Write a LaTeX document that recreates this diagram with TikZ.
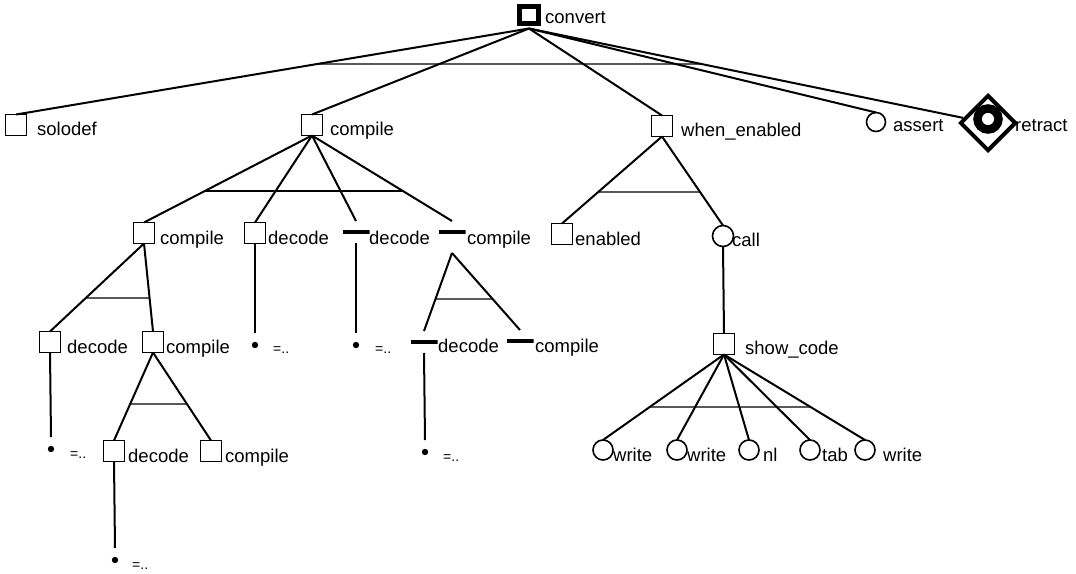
\documentclass[tikz,border=0pt]{standalone}
\usepackage{fontspec}
\setmainfont{Liberation Sans}
\usetikzlibrary{shapes.geometric,calc}
\begin{document}
\begin{tikzpicture}[x=1pt,y=-1pt,
  sq/.style={draw,line width=1.8pt,minimum width=21pt,minimum height=21pt,inner sep=0pt,outer sep=0pt},
  ci/.style={draw,circle,line width=1.6pt,minimum size=20pt,inner sep=0pt,outer sep=0pt},
  barnode/.style={minimum width=27pt,minimum height=22pt,inner sep=0pt,outer sep=0pt,
    path picture={\draw[line width=3.8pt] (path picture bounding box.west) -- (path picture bounding box.east);}},
  dotnode/.style={minimum size=24pt,inner sep=0pt,outer sep=0pt,
    path picture={\fill (path picture bounding box.center) circle (3.2pt);}},
  lab/.style={anchor=base west,inner sep=0pt,font=\fontsize{18.5}{20}\selectfont},
  eqlab/.style={anchor=west,inner sep=0pt,font=\fontsize{14}{16}\selectfont},
  conn/.style={line width=2pt},
  andbar/.style={line width=1.4pt}
]
\useasboundingbox (0,0) rectangle (1076,573);

% level 0
\node[sq,line width=4.5pt,minimum width=19pt,minimum height=17pt,outer sep=5pt] (convert) at (529,15) {};
\node[lab] (convertl) at (545,23) {convert};

% level 1
\node[sq] (solodef) at (16,125) {};
\node[lab] (solodefl) at (37,135) {solodef};
\node[sq] (c1) at (312,125) {};
\node[lab] (c1l) at (330,135) {compile};
\node[sq] (we) at (662,126) {};
\node[lab] (wel) at (681,136) {when\_enabled};
\node[ci,minimum size=19pt] (assert) at (876,122) {};
\node[lab] (assertl) at (893,131) {assert};
\node[diamond,draw,line width=4pt,minimum width=56pt,minimum height=56pt,inner sep=0pt] (retract) at (988,123) {};
\node[circle,draw,line width=8.5pt,minimum size=21pt,inner sep=0pt] (retractring) at (988,119) {};
\node[lab] (retractl) at (1015,131) {retract};

% level 2
\node[sq] (c2) at (144,233) {};
\node[lab] (c2l) at (160,244) {compile};
\node[sq] (dec1) at (255,233) {};
\node[lab] (dec1l) at (268,244) {decode};
\node[barnode] (dec2) at (356,232) {};
\node[lab] (dec2l) at (369,244) {decode};
\node[barnode] (c3) at (452,232) {};
\node[lab] (c3l) at (467,244) {compile};
\coordinate (c3a) at ([yshift=-10pt]c3.south);
\node[sq] (en) at (562,234) {};
\node[lab] (enl) at (575,245) {enabled};
\node[ci,minimum size=21pt] (call) at (723,236) {};
\node[lab] (calll) at (732,246) {call};

% level 3
\node[sq] (dec3) at (50,342) {};
\node[lab] (dec3l) at (67,353) {decode};
\node[sq] (c4) at (153,342) {};
\node[lab] (c4l) at (166,353) {compile};
\node[dotnode] (dot1) at (255,345) {};
\node[eqlab] (dot1l) at (273,350) {=..};
\node[dotnode] (dot2) at (356,345) {};
\node[eqlab] (dot2l) at (375,350) {=..};
\node[barnode] (dec5) at (424,342) {};
\node[lab] (dec5l) at (438,352) {decode};
\node[barnode] (c6) at (520,341) {};
\node[lab] (c6l) at (535,352) {compile};
\node[sq] (sc) at (724,344) {};
\node[lab] (scl) at (745,354) {show\_code};

% level 4
\node[dotnode] (dot3) at (51,449) {};
\node[eqlab] (dot3l) at (70,455) {=..};
\node[sq] (dec4) at (114,451) {};
\node[lab] (dec4l) at (128,462) {decode};
\node[sq] (c5) at (211,451) {};
\node[lab] (c5l) at (225,462) {compile};
\node[dotnode] (dot4) at (425,452) {};
\node[eqlab] (dot4l) at (443,458) {=..};
\node[ci] (w1) at (603,450) {};
\node[lab] (w1l) at (613,461) {write};
\node[ci] (w2) at (677,450) {};
\node[lab] (w2l) at (687,461) {write};
\node[ci] (nl) at (749,450) {};
\node[lab] (nll) at (763,461) {nl};
\node[ci] (tab) at (810,450) {};
\node[lab] (tabl) at (822,461) {tab};
\node[ci] (w3) at (865,450) {};
\node[lab] (w3l) at (883,461) {write};

% level 5
\node[dotnode] (dot5) at (115,560) {};
\node[eqlab] (dot5l) at (132,566) {=..};

% connectors
\draw[conn] (convert.south) -- (solodef.north);
\draw[conn] (convert.south) -- (c1.north);
\draw[conn] (convert.south) -- (we.north);
\draw[conn] (convert.south) -- (assert.north);
\draw[conn] (convert.south) -- (retract);
\draw[andbar] (intersection of convert.south--solodef.north and 0,64--1,64) -- (intersection of convert.south--retract.center and 0,64--1,64);

\draw[conn] (c1.south) -- (c2.north);
\draw[conn] (c1.south) -- (dec1.north);
\draw[conn] (c1.south) -- (dec2.north);
\draw[conn] (c1.south) -- (c3.north);
\draw[andbar] (intersection of c1.south--c2.north and 0,191--1,191) -- (intersection of c1.south--c3.north and 0,191--1,191);

\draw[conn] (we.south) -- (en.north);
\draw[conn] (we.south) -- (call.north);
\draw[andbar] (intersection of we.south--en.north and 0,192--1,192) -- (intersection of we.south--call.north and 0,192--1,192);

\draw[conn] (c2.south) -- (dec3.north);
\draw[conn] (c2.south) -- (c4.north);
\draw[andbar] (intersection of c2.south--dec3.north and 0,298--1,298) -- (intersection of c2.south--c4.north and 0,298--1,298);

\draw[conn] (dec1.south) -- (dot1.north);
\draw[conn] (dec2.south) -- (dot2.north);

\draw[conn] (c3a) -- (dec5.north);
\draw[conn] (c3a) -- (c6.north);
\draw[andbar] (intersection of c3a--dec5.north and 0,299--1,299) -- (intersection of c3a--c6.north and 0,299--1,299);

\draw[conn] (call.south) -- (sc.north);

\draw[conn] (dec3.south) -- (dot3.north);
\draw[conn] (c4.south) -- (dec4.north);
\draw[conn] (c4.south) -- (c5.north);
\draw[andbar] (intersection of c4.south--dec4.north and 0,404--1,404) -- (intersection of c4.south--c5.north and 0,404--1,404);
\draw[conn] (dec5.south) -- (dot4.north);

\draw[conn] (sc.south) -- (w1.north);
\draw[conn] (sc.south) -- (w2.north);
\draw[conn] (sc.south) -- (nl.north);
\draw[conn] (sc.south) -- (tab.north);
\draw[conn] (sc.south) -- (w3.north);
\draw[andbar] (intersection of sc.south--w1.north and 0,407--1,407) -- (intersection of sc.south--w3.north and 0,407--1,407);

\draw[conn] (dec4.south) -- (dot5.north);
\end{tikzpicture}
\end{document}
